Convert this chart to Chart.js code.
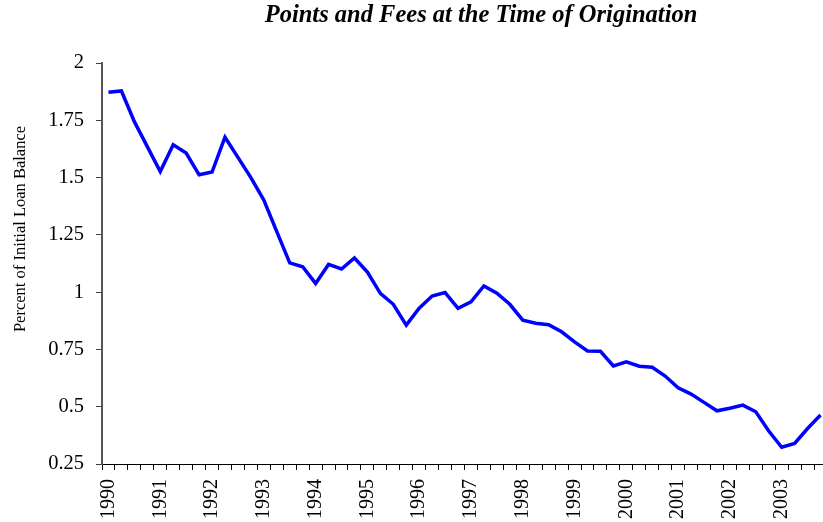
<!DOCTYPE html>
<html>
<head>
<meta charset="utf-8">
<script src="https://cdn.jsdelivr.net/npm/chart.js@4"></script>
<style>
  html, body { margin: 0; padding: 0; background: #fff; overflow: hidden; }
</style>
</head>
<body>
<canvas id="js-fees-chart" width="830" height="522"></canvas>
<script>
// quarters 1990Q1 .. 2003Q4
const years = ['1990', '1991', '1992', '1993', '1994', '1995', '1996', '1997', '1998', '1999', '2000', '2001', '2002', '2003'];
const quarters = ['Q1', 'Q2', 'Q3', 'Q4'];
const labels = [];
years.forEach(y => quarters.forEach(q => labels.push(y + q)));

const pointsAndFees = [
  1.872, 1.878, 1.744, 1.635, 1.526, 1.643, 1.607, 1.512,
  1.524, 1.676, 1.588, 1.500, 1.402, 1.264, 1.128, 1.111,
  1.038, 1.121, 1.101, 1.149, 1.088, 0.995, 0.947, 0.856,
  0.930, 0.983, 0.998, 0.929, 0.958, 1.027, 0.995, 0.947,
  0.878, 0.864, 0.858, 0.827, 0.783, 0.743, 0.742, 0.678,
  0.696, 0.677, 0.672, 0.634, 0.583, 0.555, 0.519, 0.482,
  0.493, 0.507, 0.478, 0.394, 0.323, 0.340, 0.405, 0.464
];

const yTicks = [0.25, 0.5, 0.75, 1, 1.25, 1.5, 1.75, 2];

const chartTitle = 'Points and Fees at the Time of Origination';
const yTitle = 'Percent of Initial Loan Balance';

const serif = '"Liberation Serif", "Times New Roman", serif';

// タイトルと軸タイトルを描く
const titles = {
  id: 'titles',
  afterDraw: function (chart) {
    const { ctx } = chart;
    ctx.save();
    ctx.fillStyle = '#000';
    ctx.textAlign = 'center';
    ctx.textBaseline = 'alphabetic';
    ctx.font = 'italic bold 24.5px ' + serif;
    ctx.fillText(chartTitle, 481, 22);

    ctx.translate(21, 229);
    ctx.rotate(-Math.PI / 2);
    ctx.font = '16.5px ' + serif;
    ctx.textBaseline = 'middle';
    ctx.fillText(yTitle, 0, 0);
    ctx.restore();
  }
};

const ctx = document.getElementById('js-fees-chart').getContext('2d');

new Chart(ctx, {
  type: 'line',
  data: {
    labels: labels,
    datasets: [{
      label: 'Points and fees',
      data: pointsAndFees,
      borderColor: '#0000ff',
      borderWidth: 3.5,
      pointRadius: 0,
      tension: 0,
      fill: false
    }]
  },
  options: {
    responsive: false,
    animation: false,
    layout: { padding: { top: 63, right: 3, bottom: 0, left: 0 } },
    plugins: {
      legend: { display: false },
      tooltip: { enabled: false },
      title: { display: false }
    },
    scales: {
      x: {
        type: 'category',
        offset: true,
        afterFit: function (scale) {
          scale.height = 58;
          scale.paddingLeft = 0;
          scale.paddingRight = 0;
        },
        grid: {
          offset: true,
          drawOnChartArea: false,
          drawTicks: true,
          tickLength: 6,
          color: '#000',
          lineWidth: 1
        },
        border: { color: '#000', width: 1 },
        ticks: {
          autoSkip: false,
          minRotation: 90,
          maxRotation: 90,
          padding: 9,
          color: '#000',
          font: { family: serif, size: 20 },
          callback: function (value, index) {
            const lab = labels[index];
            return lab.endsWith('Q1') ? lab.slice(0, 4) : '';
          }
        }
      },
      y: {
        min: 0.25,
        max: 2,
        afterFit: function (scale) { scale.width = 102; },
        afterBuildTicks: function (scale) {
          scale.ticks = yTicks.map(v => ({ value: v }));
        },
        grid: {
          drawOnChartArea: false,
          drawTicks: true,
          tickLength: 6,
          color: '#404040'
        },
        border: { color: '#555', width: 2 },
        ticks: {
          padding: 12,
          color: '#000',
          font: { family: serif, size: 20.5 },
          callback: function (value) { return String(value); }
        }
      }
    }
  },
  plugins: [titles]
});
</script>
</body>
</html>
